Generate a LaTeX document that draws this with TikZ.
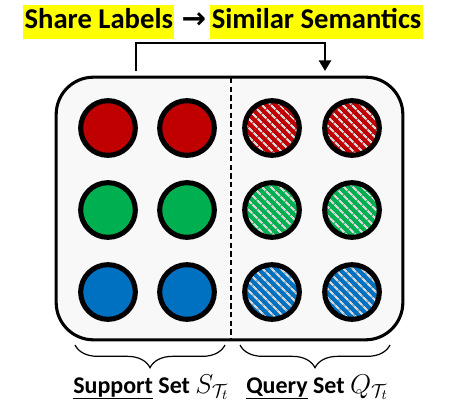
\documentclass[tikz,border=0pt]{standalone}
\usepackage{fontspec}
\setmainfont{Carlito}
\newfontfamily\arrowfont{DejaVu Sans}
\usetikzlibrary{patterns.meta,decorations.pathreplacing,arrows.meta}

\definecolor{setred}{HTML}{C00000}
\definecolor{setgreen}{HTML}{00B050}
\definecolor{setblue}{HTML}{0070C0}
\definecolor{stripe}{HTML}{D6D6D6}
\definecolor{panelfill}{HTML}{F8F8F8}
\definecolor{marker}{HTML}{FFFF00}

\tikzset{
  sample/.style={circle, draw=black, line width=3.8pt, minimum size=41pt, inner sep=0pt},
  hatched/.style={sample, preaction={fill=#1},
    pattern={Lines[angle=-45, distance=5.4pt, line width=1.8pt]}, pattern color=stripe},
  solid sample/.style={sample, fill=#1},
  highlight/.style={fill=marker, inner xsep=1pt, inner ysep=0pt,
    text height=18pt, text depth=7.2pt, font=\fontsize{21.5}{24}\selectfont\bfseries},
  setlabel/.style={inner sep=0pt, anchor=base west, font=\fontsize{18}{20}\selectfont\bfseries},
  brace/.style={decorate, decoration={brace, mirror, amplitude=17pt}, line width=0.9pt},
  link/.style={line width=2.2pt, -{Triangle[length=8pt, width=9pt]}}
}

\begin{document}
\begin{tikzpicture}[x=0.75pt, y=-0.75pt]
  \useasboundingbox (0,0) rectangle (452,403);

  % heading
  \node[highlight, anchor=base west] (share) at (23,29) {Share Labels};
  \node[inner sep=0pt, anchor=base, font=\fontsize{22}{24}\selectfont\arrowfont\bfseries] (to) at (194,29) {→};
  \node[highlight, anchor=base east] (similar) at (423,29) {Similar Semantics};

  % panel holding both sets
  \node[draw=black, line width=2.3pt, fill=panelfill, rounded corners=28pt,
        minimum width=260pt, minimum height=197pt, inner sep=0pt] (panel) at (229.5,208.5) {};
  \coordinate (splittop) at (231,78);
  \coordinate (splitbot) at (231,340);
  \draw[line width=1.2pt, dash pattern=on 4pt off 2.5pt] (splittop) -- (splitbot);

  % support samples
  \node[solid sample=setred]   (s11) at (108,128) {};
  \node[solid sample=setred]   (s12) at (187,128) {};
  \node[solid sample=setgreen] (s21) at (108,210) {};
  \node[solid sample=setgreen] (s22) at (187,210) {};
  \node[solid sample=setblue]  (s31) at (108,292) {};
  \node[solid sample=setblue]  (s32) at (187,292) {};

  % query samples
  \node[hatched=setred]   (q11) at (272,128) {};
  \node[hatched=setred]   (q12) at (352,128) {};
  \node[hatched=setgreen] (q21) at (272,210) {};
  \node[hatched=setgreen] (q22) at (352,210) {};
  \node[hatched=setblue]  (q31) at (272,292) {};
  \node[hatched=setblue]  (q32) at (352,292) {};

  % label transfer arrow
  \coordinate (from) at (136,71);
  \coordinate (into) at (325,71);
  \draw[link] (from) -- (136,43) -- (325,43) -- (into);

  % braces and set names
  \coordinate (bl1) at (75,345);
  \coordinate (bl2) at (225,345);
  \coordinate (br1) at (240,345);
  \coordinate (br2) at (390,345);
  \draw[brace] (bl1) -- (bl2);
  \draw[brace] (br1) -- (br2);
  \node[setlabel] (support) at (73,393) {\underline{Support} Set \scalebox{1.18}{$S_{\mathcal{T}_t}$}};
  \node[setlabel] (query) at (246,393) {\underline{Query} Set \scalebox{1.18}{$Q_{\mathcal{T}_t}$}};
\end{tikzpicture}
\end{document}
